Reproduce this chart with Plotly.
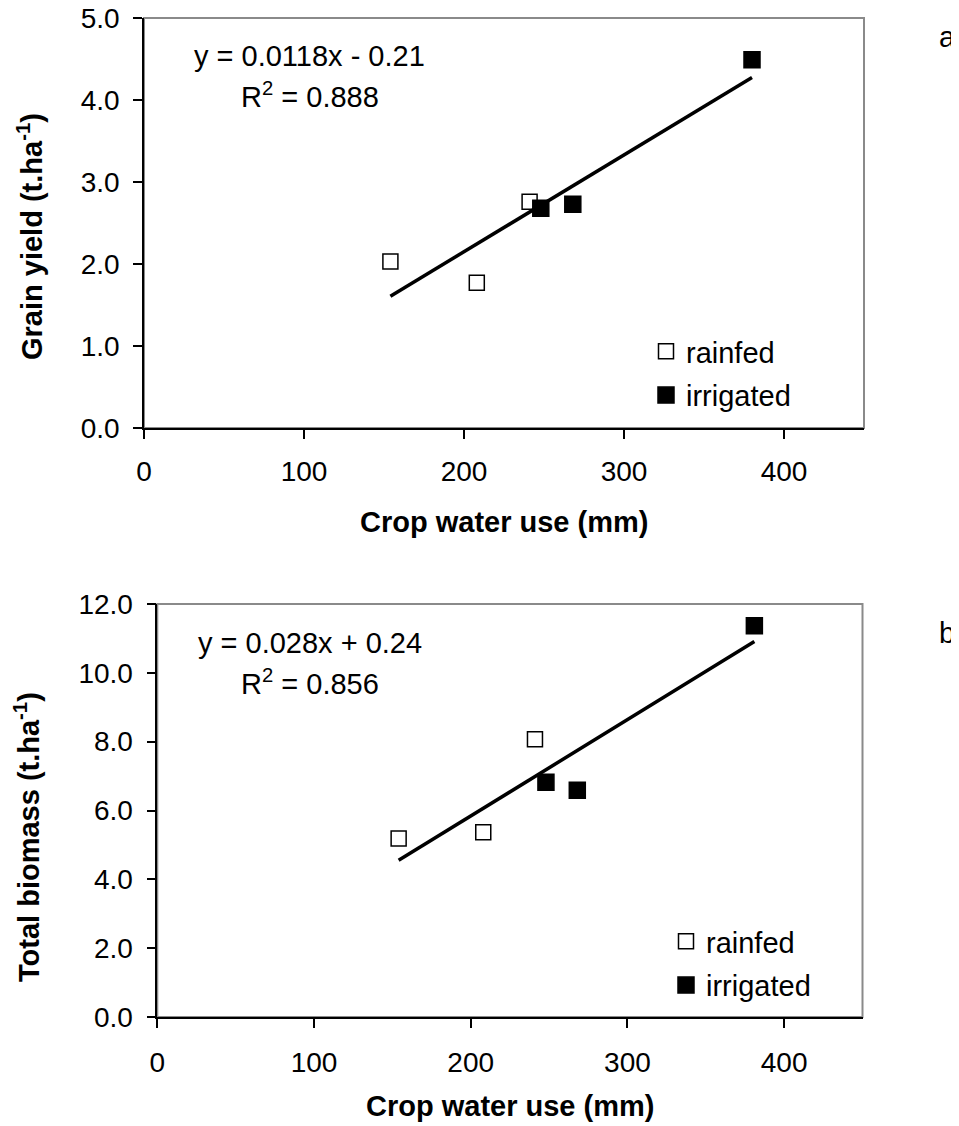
import plotly.graph_objects as go

# ---------------- data ----------------
water_rainfed_a = [154, 208, 241]
grain_rainfed = [2.03, 1.77, 2.76]
water_irrigated_a = [248, 268, 380]
grain_irrigated = [2.68, 2.73, 4.49]

water_rainfed_b = [154, 208, 241]
biomass_rainfed = [5.19, 5.37, 8.07]
water_irrigated_b = [248, 268, 381]
biomass_irrigated = [6.82, 6.59, 11.37]

fit_a = (0.0118, -0.21)   # slope, intercept  (R2 0.888)
fit_b = (0.028, 0.24)     # slope, intercept  (R2 0.856)

x_ticks = [0, 100, 200, 300, 400]
y_ticks_a = [0, 1, 2, 3, 4, 5]
y_ticks_b = [0, 2, 4, 6, 8, 10, 12]

# ---------------- layout helpers ----------------
OFF = 8                      # page body margin
W, H = 959 - OFF, 1126 - OFF
FONT = "Liberation Sans, Arial, sans-serif"


def px(x):
    return (x - OFF) / W


def py(y):
    return 1 - (y - OFF) / H


fig = go.Figure()


def add_panel(xa, ya, wr, yr, wi, yi, fit, legend):
    fig.add_trace(go.Scatter(
        x=wr, y=yr, mode="markers", name="rainfed", xaxis=xa, yaxis=ya,
        legendgroup=legend + "r",
        marker=dict(symbol="square", size=15, color="white",
                    line=dict(color="black", width=1.5)),
        legend=legend, cliponaxis=False))
    fig.add_trace(go.Scatter(
        x=wi, y=yi, mode="markers", name="irrigated", xaxis=xa, yaxis=ya,
        legendgroup=legend + "i",
        marker=dict(symbol="square", size=16, color="black",
                    line=dict(color="black", width=1.5)),
        legend=legend, cliponaxis=False))
    allx = wr + wi
    xs = [min(allx), max(allx)]
    ys = [fit[0] * v + fit[1] for v in xs]
    fig.add_trace(go.Scatter(
        x=xs, y=ys, mode="lines", showlegend=False, xaxis=xa, yaxis=ya,
        line=dict(color="black", width=3.5)))


add_panel("x", "y", water_rainfed_a, grain_rainfed, water_irrigated_a,
          grain_irrigated, fit_a, "legend")
add_panel("x2", "y2", water_rainfed_b, biomass_rainfed, water_irrigated_b,
          biomass_irrigated, fit_b, "legend2")

axis_common = dict(
    showline=True, linecolor="black", linewidth=1.5,
    ticks="outside", ticklen=9, tickwidth=1.5, tickcolor="black",
    showgrid=False, zeroline=False, automargin=False,
    ticklabeloverflow="allow",
    tickfont=dict(family=FONT, size=28, color="black"),
)

legend_common = dict(xanchor="left", yanchor="top", bgcolor="rgba(0,0,0,0)",
                     font=dict(family=FONT, size=29, color="black"),
                     itemwidth=30, tracegroupgap=3, traceorder="grouped")

fig.update_layout(
    width=W, height=H,
    margin=dict(l=0, r=0, t=0, b=0),
    paper_bgcolor="white", plot_bgcolor="white",
    font=dict(family=FONT, size=28, color="black"),
    xaxis=dict(domain=[px(144), px(864)], range=[0, 450], tickvals=x_ticks,
               anchor="y", ticklabelstandoff=9, **axis_common),
    yaxis=dict(domain=[py(428), py(18)], range=[0, 5], tickvals=y_ticks_a,
               tickformat=".1f", anchor="x", ticklabelstandoff=8, **axis_common),
    xaxis2=dict(domain=[px(157.3), px(862.5)], range=[0, 450], tickvals=x_ticks,
                anchor="y2", ticklabelstandoff=11, **axis_common),
    yaxis2=dict(domain=[py(1017), py(604)], range=[0, 12], tickvals=y_ticks_b,
                tickformat=".1f", anchor="x2", ticklabelstandoff=8, **axis_common),
    legend=dict(x=px(646), y=py(326), **legend_common),
    legend2=dict(x=px(666), y=py(916), **legend_common),
    showlegend=True,
)

# gray top/right frame
for xr, yr in (("x", "y"), ("x2", "y2")):
    fig.add_shape(type="rect", xref=f"{xr} domain", yref=f"{yr} domain",
                  x0=0, x1=1, y0=0, y1=1, layer="below",
                  line=dict(color="#8a8a8a", width=2))

ann = [
    ("y = 0.0118x - 0.21", 309, 56),
    ("R<sup>2</sup> = 0.888", 310, 95),
    ("y = 0.028x + 0.24", 310, 643),
    ("R<sup>2</sup> = 0.856", 310, 682),
    ("a", 947, 37),
    ("b", 947, 633),
]
for text, x, y in ann:
    fig.add_annotation(text=text, x=px(x), y=py(y), xref="paper", yref="paper",
                       showarrow=False, xanchor="center", yanchor="middle",
                       font=dict(family=FONT, size=29, color="black"))

titles = [
    ("<b>Crop water use (mm)</b>", 504, 522, 0),
    ("<b>Crop water use (mm)</b>", 510, 1106, 0),
    ("<b>Grain yield (t.ha<sup>-1</sup>)</b>", 30, 237, -90),
    ("<b>Total biomass (t.ha<sup>-1</sup>)</b>", 27, 837, -90),
]
for text, x, y, ang in titles:
    fig.add_annotation(text=text, x=px(x), y=py(y), xref="paper", yref="paper",
                       showarrow=False, xanchor="center", yanchor="middle",
                       textangle=ang,
                       font=dict(family=FONT, size=29, color="black"))

fig.write_html("out.html")
